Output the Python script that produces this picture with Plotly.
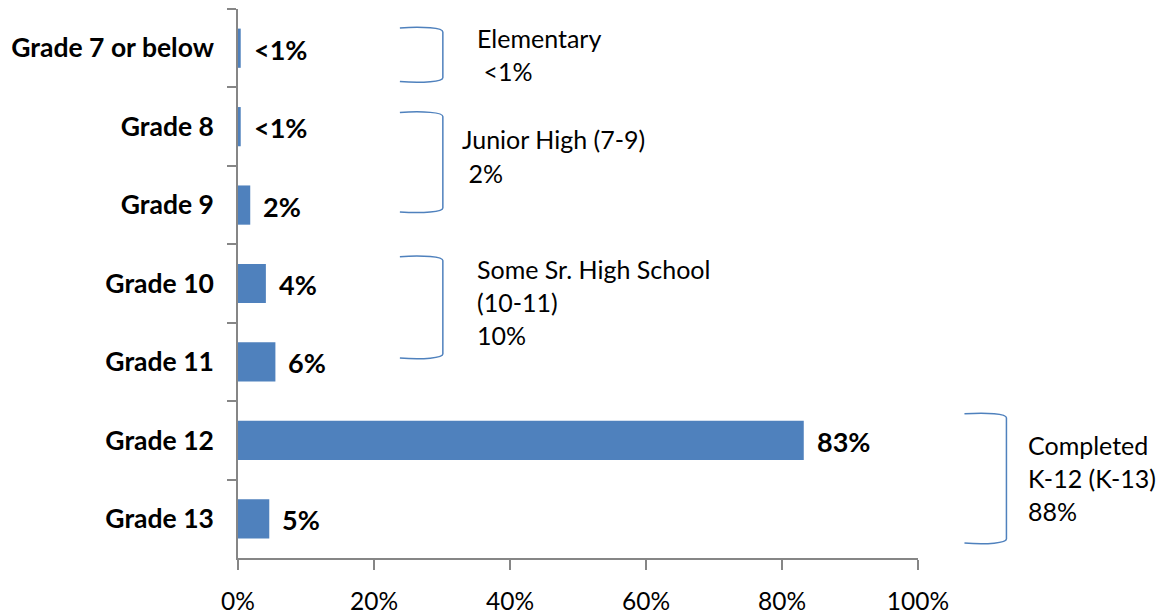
import plotly.graph_objects as go

categories = ["Grade 7 or below", "Grade 8", "Grade 9", "Grade 10", "Grade 11", "Grade 12", "Grade 13"]
values = [0.4, 0.4, 1.8, 4.1, 5.5, 83.2, 4.6]
value_labels = ["<1%", "<1%", "2%", "4%", "6%", "83%", "5%"]
x_ticks = [0, 20, 40, 60, 80, 100]
x_tick_text = ["0%", "20%", "40%", "60%", "80%", "100%"]

groups = [
    (["Elementary", " <1%"], (400, 443, 28, 82), (475, 38)),
    (["Junior High (7-9)", " 2%"], (400, 443, 113, 213), (460, 140)),
    (["Some Sr. High School", "(10-11)", "10%"], (400, 443, 258, 360), (475, 270)),
    (["Completed", "K-12 (K-13)", "88%"], (965, 1007, 416, 546), (1027, 447)),
]

OFF = 8  # page body margin in the browser
W, H = 1166 - OFF, 616 - OFF
L, R, T, B = 238 - OFF, 918.5 - OFF, 9 - OFF, 561 - OFF
FONT = "Lato"
BLUE = "#4F81BD"
GRAY = "#868686"


def px(x):
    return (x - OFF - L) / (R - L)


def py(y):
    return 1 - (y - OFF - T) / (B - T)


fig = go.Figure()
fig.add_trace(go.Bar(
    x=values, y=categories, orientation="h",
    marker=dict(color=BLUE, line=dict(width=0)),
    width=0.5, hoverinfo="skip",
))

annotations = []
for v, lab, c in zip(values, value_labels, categories):
    annotations.append(dict(
        x=v, y=c, xref="x", yref="y", text=lab, showarrow=False,
        xanchor="left", yanchor="middle", xshift=11, yshift=-1,
        font=dict(family=FONT, size=27, color="black", weight="bold"),
    ))

shapes = []
for lines, (x0, x1, y0, y1), (tx, ty) in groups:
    w = x1 - x0
    pts = [
        ("M", [(x0, y0)]),
        ("C", [(x0 + 0.55 * w, y0 - 1.5), (x1, y0), (x1, y0 + 4)]),
        ("L", [(x1, y1 - 4)]),
        ("C", [(x1, y1), (x0 + 0.55 * w, y1 + 1.5), (x0, y1)]),
    ]
    path = " ".join(cmd + " " + " ".join(f"{px(a):.5f},{py(b):.5f}" for a, b in p) for cmd, p in pts)
    shapes.append(dict(type="path", xref="paper", yref="paper", path=path,
                       line=dict(color=BLUE, width=1.5)))
    for i, ln in enumerate(lines):
        annotations.append(dict(
            x=px(tx), y=py(ty + i * 33.5), xref="paper", yref="paper",
            text=ln, showarrow=False, xanchor="left", yanchor="middle",
            font=dict(family=FONT, size=25, color="black"),
        ))

fig.update_layout(
    width=W, height=H,
    margin=dict(l=L, r=W - R, t=T, b=H - B, pad=0),
    paper_bgcolor="white", plot_bgcolor="white",
    showlegend=False,
    annotations=annotations, shapes=shapes,
    xaxis=dict(
        range=[0, 100], tickmode="array", tickvals=x_ticks, ticktext=x_tick_text,
        ticks="outside", ticklen=10, tickcolor=GRAY, tickwidth=1.5,
        showline=True, linecolor=GRAY, linewidth=1.5,
        showgrid=False, zeroline=False,
        tickfont=dict(family=FONT, size=24.5, color="black"),
        ticklabelstandoff=11,
    ),
    yaxis=dict(
        autorange="reversed", type="category",
        ticks="outside", ticklen=9, tickcolor=GRAY, tickwidth=1.5,
        tickson="boundaries",
        showline=True, linecolor=GRAY, linewidth=1.5,
        showgrid=False, zeroline=False,
        tickfont=dict(family=FONT, size=26.5, color="black", weight="bold"),
        ticklabelstandoff=17,
    ),
)

fig.write_html("out.html")
